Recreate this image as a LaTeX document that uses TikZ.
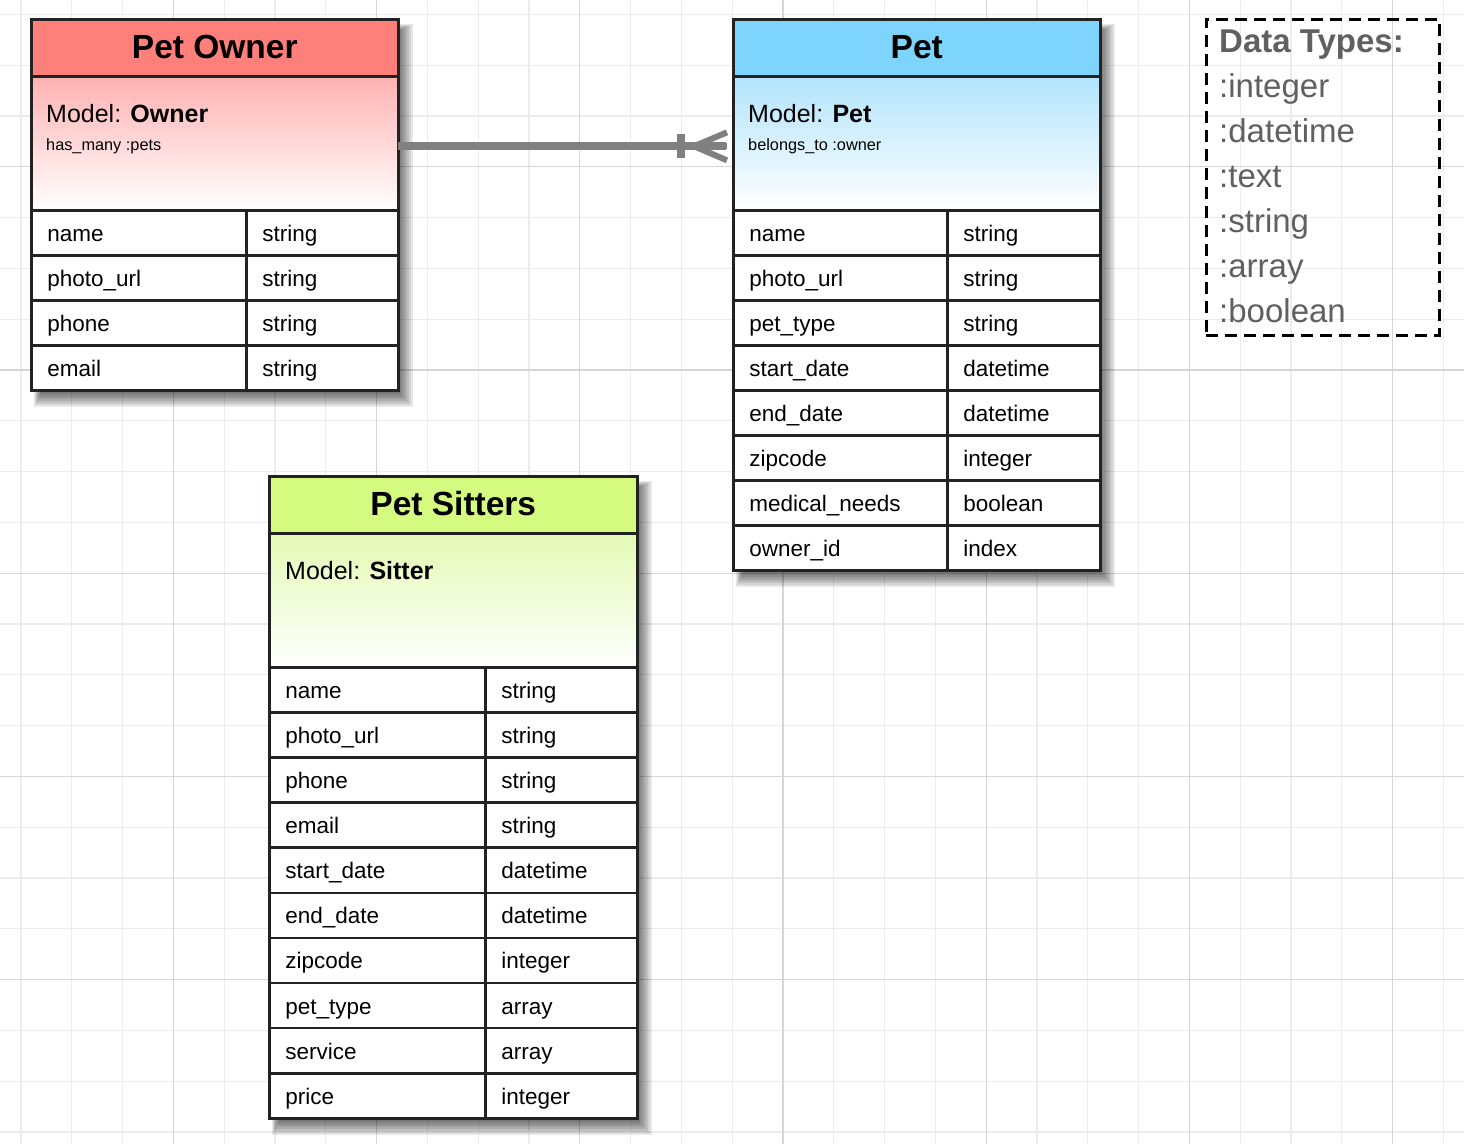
\documentclass[tikz,border=0pt]{standalone}
\usepackage{fontspec}
\setmainfont{Liberation Sans}
\usetikzlibrary{calc}
\definecolor{gridminor}{RGB}{236,236,236}
\definecolor{gridmajor}{RGB}{214,214,214}
\definecolor{ownerhead}{RGB}{255,128,122}
\definecolor{ownertop}{RGB}{255,178,178}
\definecolor{pethead}{RGB}{125,212,252}
\definecolor{pettop}{RGB}{178,228,252}
\definecolor{sitterhead}{RGB}{212,250,128}
\definecolor{sittertop}{RGB}{228,250,180}
\definecolor{framec}{RGB}{34,34,34}
\definecolor{connc}{RGB}{128,128,128}
\definecolor{dtgray}{RGB}{96,96,96}
\begin{document}
\begin{tikzpicture}[x=1pt,y=-1pt,
  cell/.style={draw=framec,line width=2.6pt,fill=white,anchor=north west,minimum height=45pt,
    inner xsep=16pt,inner ysep=0pt,text height=22pt,text depth=5pt,align=left,
    font=\fontsize{22.5}{26}\selectfont},
  head/.style={draw=framec,line width=2.6pt,anchor=north west,inner sep=0pt,
    text height=28pt,text depth=7pt,font=\fontsize{33.5}{38}\selectfont\bfseries},
  body/.style={draw=framec,line width=2.6pt,anchor=north west,inner sep=0pt},
  model/.style={anchor=base west,inner sep=0pt,font=\fontsize{25}{30}\selectfont},
  rel/.style={anchor=base west,inner sep=0pt,font=\fontsize{16.3}{20}\selectfont},
  dtype/.style={anchor=base west,inner sep=0pt,text=dtgray,font=\fontsize{33}{40}\selectfont},
  connline/.style={draw=connc,line width=8pt},
  footline/.style={draw=connc,line width=6pt,line cap=butt,line join=miter}]
\useasboundingbox (0,0) rectangle (1464,1144);
\fill[white] (0,0) rectangle (1464,1144);
% grid
\foreach \k in {0,...,28} \draw[gridminor,line width=1.3pt] (21+50.8*\k,0) -- (21+50.8*\k,1144);
\foreach \k in {0,...,22} \draw[gridminor,line width=1.3pt] (0,14.4+50.8*\k) -- (1464,14.4+50.8*\k);
\foreach \k in {3,7,...,27} \draw[gridmajor,line width=1.3pt] (21+50.8*\k,0) -- (21+50.8*\k,1144);
\foreach \k in {3,7,...,19} \draw[gridmajor,line width=1.3pt] (0,14.4+50.8*\k) -- (1464,14.4+50.8*\k);
% shadows (right and bottom only)
\foreach \r in {-8,-6,...,12} {
  \fill[black,opacity=0.09] (30+10-0.5*\r,18+12-0.5*\r) rectangle (397+4+\r,389+6+\r);
  \fill[black,opacity=0.09] (732+10-0.5*\r,18+12-0.5*\r) rectangle (1099+4+\r,569+6+\r);
  \fill[black,opacity=0.09] (268+10-0.5*\r,475+12-0.5*\r) rectangle (636+4+\r,1117+6+\r);
}
% ---------- Pet Owner ----------
\node[body,top color=ownertop,bottom color=white,minimum width=367pt,minimum height=134pt] (own-body) at (30,75) {};
\node[head,fill=ownerhead,minimum width=367pt,minimum height=57pt] (own-head) at (30,18) {Pet Owner};
\node[model] (own-model) at (46,122) {Model: \textbf{Owner}};
\node[rel] (own-rel) at (46,150) {has\_many :pets};
\foreach \n/\t [count=\i] in {name/string,photo\_url/string,phone/string,email/string} {
  \node[cell,text width=183pt] (own-n\i) at (30,164+45*\i) {\n};
  \node[cell,text width=120pt] (own-t\i) at (245,164+45*\i) {\t};
}
% ---------- Pet ----------
\node[body,top color=pettop,bottom color=white,minimum width=367pt,minimum height=134pt] (pet-body) at (732,75) {};
\node[head,fill=pethead,minimum width=367pt,minimum height=57pt] (pet-head) at (732,18) {Pet};
\node[model] (pet-model) at (748,122) {Model: \textbf{Pet}};
\node[rel] (pet-rel) at (748,150) {belongs\_to :owner};
\foreach \n/\t [count=\i] in {name/string,photo\_url/string,pet\_type/string,start\_date/datetime,end\_date/datetime,zipcode/integer,medical\_needs/boolean,owner\_id/index} {
  \node[cell,text width=182pt] (pet-n\i) at (732,164+45*\i) {\n};
  \node[cell,text width=121pt] (pet-t\i) at (946,164+45*\i) {\t};
}
% ---------- Pet Sitters ----------
\node[body,top color=sittertop,bottom color=white,minimum width=368pt,minimum height=134pt] (sit-body) at (268,532) {};
\node[head,fill=sitterhead,minimum width=368pt,minimum height=57pt] (sit-head) at (268,475) {Pet Sitters};
\node[model] (sit-model) at (285,579) {Model: \textbf{Sitter}};
\foreach \n/\t [count=\i] in {name/string,photo\_url/string,phone/string,email/string,start\_date/datetime,end\_date/datetime,zipcode/integer,pet\_type/array,service/array,price/integer} {
  \node[cell,text width=184pt,minimum height=45.1pt] (sit-n\i) at (268,620.9+45.1*\i) {\n};
  \node[cell,text width=120pt,minimum height=45.1pt] (sit-t\i) at (484,620.9+45.1*\i) {\t};
}
% ---------- connector ----------
\coordinate (ca) at ([yshift=-3pt]own-body.east);
\coordinate (cb) at ([yshift=-3pt]pet-body.west);
\draw[connline] ([xshift=-2pt]ca) -- ([xshift=-6pt]cb);
\draw[connline] ([xshift=-51pt,yshift=12pt]cb) -- ([xshift=-51pt,yshift=-12pt]cb);
\draw[footline] ([xshift=-5pt,yshift=14pt]cb) -- ([xshift=-38pt]cb) -- ([xshift=-5pt,yshift=-14pt]cb);
\draw[footline] ([xshift=-38pt]cb) -- ([xshift=-5pt]cb);
% ---------- Data types ----------
\node[draw=black,dash pattern=on 12pt off 7pt,line width=2.6pt,anchor=north west,inner sep=0pt,
  minimum width=233pt,minimum height=316pt] (dt-box) at (1205,18) {};
\node[dtype,font=\fontsize{33}{40}\selectfont\bfseries] (dt0) at (1219,52) {Data Types:};
\foreach \w [count=\i] in {:integer,:datetime,:text,:string,:array,:boolean}
  \node[dtype] (dt\i) at (1219,52+45*\i) {\w};
\end{tikzpicture}
\end{document}
